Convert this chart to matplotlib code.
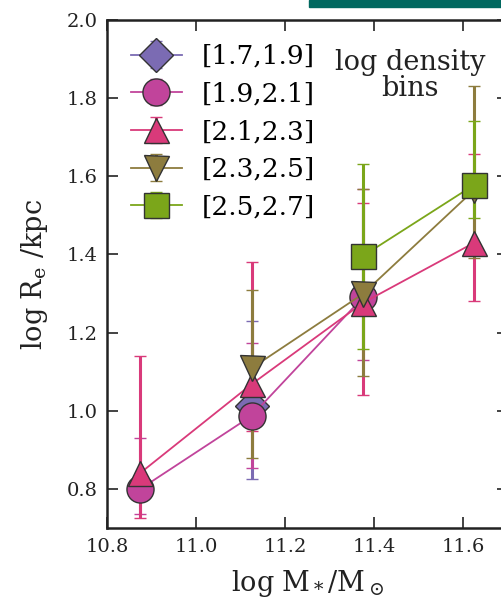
import matplotlib.pyplot as plt
from matplotlib.patches import Rectangle
import numpy as np

plt.rcParams['font.family'] = 'DejaVu Serif'
plt.rcParams['mathtext.fontset'] = 'dejavuserif'
plt.rcParams['mathtext.default'] = 'regular'

# mass bin centres
mass = [10.875, 11.125, 11.375, 11.625]

# log Re per density bin (None = empty bin), with lower/upper error bar ends
re_17 = [None, 1.012, None, None]
lo_17 = [None, 0.826, None, None]
hi_17 = [None, 1.230, None, None]

re_19 = [0.800, 0.987, 1.290, None]
lo_19 = [0.736, 0.854, 1.130, None]
hi_19 = [0.930, 1.173, 1.567, None]

re_21 = [0.841, 1.068, 1.276, 1.430]
lo_21 = [0.726, 0.948, 1.040, 1.281]
hi_21 = [1.140, 1.381, 1.531, 1.657]

re_23 = [None, 1.109, 1.299, 1.565]
lo_23 = [None, 0.879, 1.089, 1.391]
hi_23 = [None, 1.309, 1.567, 1.831]

re_25 = [None, None, 1.396, 1.578]
lo_25 = [None, None, 1.158, 1.493]
hi_25 = [None, None, 1.631, 1.741]

labels = ['[1.7,1.9]', '[1.9,2.1]', '[2.1,2.3]', '[2.3,2.5]', '[2.5,2.7]']
colors = ['#7b6bb3', '#c1449b', '#d93a7a', '#8d7c3e', '#7ba61a']
markers = ['D', 'o', '^', 'v', 's']
sizes = [17, 19.5, 18, 18, 18]

series = [(re_17, lo_17, hi_17), (re_19, lo_19, hi_19), (re_21, lo_21, hi_21),
          (re_23, lo_23, hi_23), (re_25, lo_25, hi_25)]

fig = plt.figure(figsize=(5.01, 6.06), dpi=100)
ax = fig.add_axes([107 / 501, 1 - 528 / 606, 400.5 / 501, 508 / 606])

for (y, lo, hi), lab, c, m, ms in zip(series, labels, colors, markers, sizes):
    keep = [i for i, v in enumerate(y) if v is not None]
    x = np.array([mass[i] for i in keep])
    yy = np.array([y[i] for i in keep])
    yerr = [yy - np.array([lo[i] for i in keep]),
            np.array([hi[i] for i in keep]) - yy]
    ax.errorbar(x, yy, yerr=yerr, color=c, marker=m, ms=ms, mfc=c,
                mec='#333333', mew=1.0, lw=1.3, elinewidth=2.2,
                capsize=4.5, capthick=1.5, label=lab)

ax.set_xlim(10.8, 11.7)
ax.set_ylim(0.7, 2.0)
ax.set_xticks([10.8, 11.0, 11.2, 11.4, 11.6])
ax.set_yticks([0.8, 1.0, 1.2, 1.4, 1.6, 1.8, 2.0])
ax.xaxis.set_major_formatter(plt.FormatStrFormatter('%.1f'))
ax.yaxis.set_major_formatter(plt.FormatStrFormatter('%.1f'))
ax.tick_params(direction='in', length=8, width=1.2, top=True, right=True,
               labelsize=14, colors='#222222', pad=7)
for sp in ax.spines.values():
    sp.set_linewidth(1.8)
    sp.set_color('#222222')

ax.set_xlabel(r'log M$_*$/M$_\odot$', fontsize=19.5, color='#222222',
              labelpad=9)
ax.set_ylabel(r'log R$_e$ /kpc', fontsize=19.5, color='#222222',
              labelpad=12)

ax.legend(loc='upper left', frameon=False, numpoints=1, fontsize=19,
          handlelength=1.95, labelspacing=0.48, handletextpad=0.75)
ax.text(0.757, 0.943, 'log density\nbins', transform=ax.transAxes,
        ha='center', va='top', fontsize=19.5, linespacing=0.95,
        color='#222222')

# strip of the neighbouring panel at the top edge
fig.patches.append(Rectangle((309 / 501, 1 - 7 / 606), 1, 7 / 606,
                             transform=fig.transFigure, color='#00685f'))

fig.savefig('out.png', dpi=100)
